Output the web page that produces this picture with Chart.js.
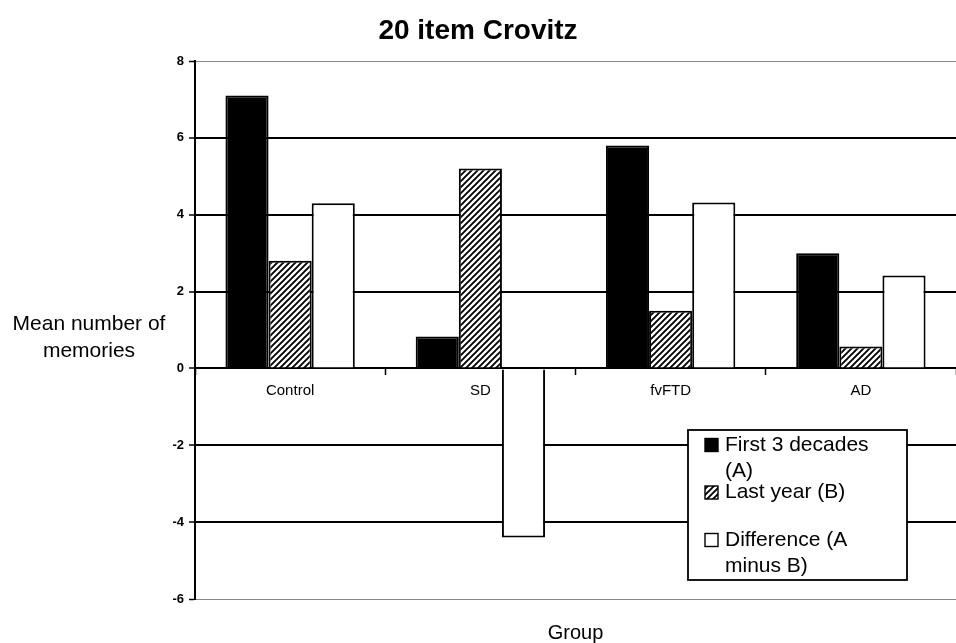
<!DOCTYPE html>
<html>
<head>
<meta charset="utf-8">
<title>20 item Crovitz</title>
<script src="https://cdn.jsdelivr.net/npm/chart.js@4/dist/chart.umd.min.js"></script>
<style>
    body { margin: 0; background: #fff; }
    canvas { display: block; }
</style>
</head>
<body>
<canvas id="crovitz" width="956" height="643"></canvas>
<script>
// data
const groups = ['Control', 'SD', 'fvFTD', 'AD'];
const firstDecades = [7.1, 0.83, 5.8, 3.0];
const lastYear = [2.8, 5.2, 1.5, 0.57];
const difference = [4.3, -4.4, 4.32, 2.42];
const seriesNames = ['First 3 decades (A)', 'Last year (B)', 'Difference (A minus B)'];
const yTicks = [-6, -4, -2, 0, 2, 4, 6, 8];

const FONT = "'Liberation Sans', Arial, sans-serif";

// diagonal hatch for "Last year"
function hatch() {
    const n = 6;
    const c = document.createElement('canvas');
    c.width = n;
    c.height = n;
    const g = c.getContext('2d');
    g.fillStyle = '#fff';
    g.fillRect(0, 0, n, n);
    g.strokeStyle = '#000';
    g.lineWidth = 1.9;
    g.beginPath();
    g.moveTo(-1, n + 1); g.lineTo(n + 1, -1);
    g.moveTo(-1, 1); g.lineTo(1, -1);
    g.moveTo(n - 1, n + 1); g.lineTo(n + 1, n - 1);
    g.stroke();
    return g.createPattern(c, 'repeat');
}
const hatchFill = hatch();

// y title and x title are horizontal text, legend is a boxed list inside the plot
const extras = {
    id: 'extras',
    afterDraw(chart) {
        const ctx = chart.ctx;
        const area = chart.chartArea;
        ctx.save();
        ctx.fillStyle = '#000';
        ctx.textAlign = 'center';
        ctx.textBaseline = 'middle';
        ctx.font = '21px ' + FONT;
        ctx.fillText('Mean number of', 89, 324);
        ctx.fillText('memories', 89, 351);
        ctx.font = '20px ' + FONT;
        ctx.fillText('Group', (area.left + area.right) / 2, 633);

        // legend
        const bx = area.right - 268, by = area.bottom - 169, bw = 219, bh = 150;
        ctx.fillStyle = '#fff';
        ctx.fillRect(bx, by, bw, bh);
        ctx.strokeStyle = '#000';
        ctx.lineWidth = 1.8;
        ctx.strokeRect(bx, by, bw, bh);
        ctx.font = '21px ' + FONT;
        ctx.textAlign = 'left';
        chart.data.datasets.forEach((ds, i) => {
            const y = by + 15 + i * 47.5;
            ctx.fillStyle = ds.backgroundColor;
            ctx.fillRect(bx + 17, y - 6.5, 13, 13);
            ctx.lineWidth = 1.4;
            ctx.strokeRect(bx + 17, y - 6.5, 13, 13);
            // wrap label
            const words = ds.label.split(' ');
            const lines = [];
            let line = '';
            words.forEach(w => {
                const t = line ? line + ' ' + w : w;
                if (ctx.measureText(t).width > 170 && line) {
                    lines.push(line);
                    line = w;
                } else {
                    line = t;
                }
            });
            lines.push(line);
            ctx.fillStyle = '#000';
            lines.forEach((l, k) => ctx.fillText(l, bx + 37, y + k * 26));
        });
        ctx.restore();
    }
};

new Chart(document.getElementById('crovitz'), {
    type: 'bar',
    data: {
        labels: groups,
        datasets: [
            { label: seriesNames[0], data: firstDecades, backgroundColor: '#000' },
            { label: seriesNames[1], data: lastYear, backgroundColor: hatchFill },
            { label: seriesNames[2], data: difference, backgroundColor: '#fff' }
        ].map(d => Object.assign(d, {
            borderColor: '#000',
            borderWidth: 2,
            borderSkipped: 'start',
            categoryPercentage: 0.68,
            barPercentage: 1.0
        }))
    },
    options: {
        responsive: false,
        animation: false,
        layout: { padding: { left: 0, right: 0, top: 0, bottom: 44 } },
        plugins: {
            legend: { display: false },
            tooltip: { enabled: false },
            title: {
                display: true,
                text: '20 item Crovitz',
                color: '#000',
                font: { family: FONT, size: 28, weight: 'bold' },
                padding: { top: 14, bottom: 13.4 }
            }
        },
        scales: {
            x: {
                position: { y: 0 },
                grid: {
                    offset: true,
                    drawOnChartArea: false,
                    drawTicks: true,
                    tickLength: 6,
                    tickColor: '#000',
                    tickWidth: 1.5
                },
                border: { color: '#000', width: 2 },
                ticks: {
                    color: '#000',
                    padding: 7,
                    font: { family: FONT, size: 15 }
                }
            },
            y: {
                min: yTicks[0],
                max: yTicks[yTicks.length - 1],
                afterBuildTicks: s => { s.ticks = yTicks.map(v => ({ value: v })); },
                afterFit: s => { s.width = 195; },
                grid: {
                    color: c => (c.tick && (c.tick.value === 8 || c.tick.value === -6)) ? '#888' : '#000',
                    lineWidth: c => (c.tick && (c.tick.value === 8 || c.tick.value === -6)) ? 1 : 2,
                    tickColor: '#000',
                    tickLength: 6,
                    tickWidth: 1.5
                },
                border: { color: '#000', width: 2 },
                ticks: {
                    color: '#000',
                    padding: 5,
                    font: { family: FONT, size: 13, weight: 'bold' }
                }
            }
        }
    },
    plugins: [extras]
});
</script>
</body>
</html>
